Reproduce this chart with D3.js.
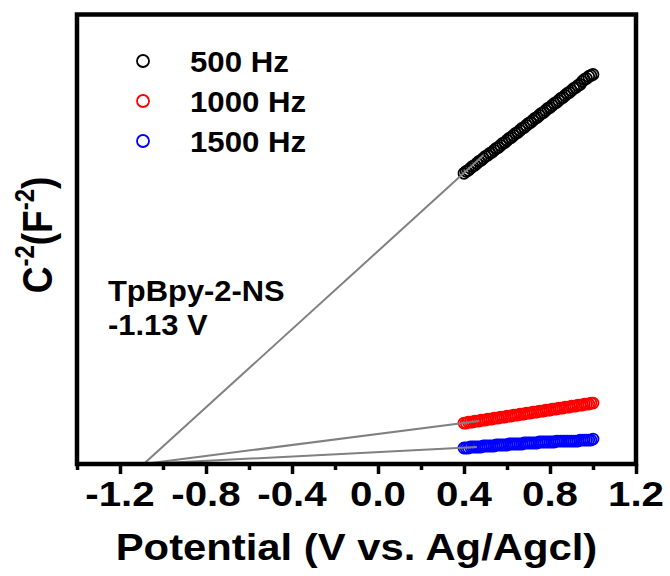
<!DOCTYPE html>
<html><head><meta charset="utf-8">
<script src="https://cdn.jsdelivr.net/npm/d3@7"></script>
<style>html,body{margin:0;padding:0;background:#fff;}svg{display:block;}</style>
</head><body>
<script>
const potential = [0.40,0.41,0.42,0.43,0.44,0.45,0.46,0.47,0.48,0.49,0.50,0.51,0.52,0.53,0.54,0.55,0.56,0.57,0.58,0.59,0.60,0.61,0.62,0.63,0.64,0.65,0.66,0.67,0.68,0.69,0.70,0.71,0.72,0.73,0.74,0.75,0.76,0.77,0.78,0.79,0.80,0.81,0.82,0.83,0.84,0.85,0.86,0.87,0.88,0.89,0.90,0.91,0.92,0.93,0.94,0.95,0.96,0.97,0.98,0.99,1.00];
const hz500 = [2.91,2.93,2.94,2.96,2.98,2.99,3.01,3.03,3.04,3.06,3.08,3.09,3.11,3.12,3.14,3.16,3.17,3.19,3.21,3.22,3.24,3.26,3.27,3.29,3.31,3.32,3.34,3.36,3.37,3.39,3.41,3.42,3.44,3.46,3.47,3.49,3.51,3.52,3.54,3.56,3.57,3.59,3.61,3.62,3.64,3.66,3.67,3.69,3.71,3.72,3.74,3.76,3.77,3.79,3.80,3.83,3.85,3.86,3.88,3.89,3.90];
const hz1000 = [0.41,0.41,0.42,0.42,0.42,0.43,0.43,0.43,0.44,0.44,0.44,0.45,0.45,0.45,0.46,0.46,0.46,0.47,0.47,0.47,0.48,0.48,0.48,0.49,0.49,0.49,0.50,0.50,0.50,0.51,0.51,0.51,0.52,0.52,0.52,0.53,0.53,0.53,0.54,0.54,0.54,0.55,0.55,0.55,0.56,0.56,0.56,0.57,0.57,0.57,0.58,0.58,0.58,0.59,0.59,0.59,0.60,0.60,0.60,0.61,0.61];
const hz1500 = [0.16,0.16,0.16,0.17,0.17,0.17,0.17,0.17,0.17,0.18,0.18,0.18,0.18,0.18,0.18,0.19,0.19,0.19,0.19,0.19,0.19,0.20,0.20,0.20,0.20,0.20,0.20,0.20,0.21,0.21,0.21,0.21,0.21,0.21,0.21,0.22,0.22,0.22,0.22,0.22,0.22,0.22,0.22,0.23,0.23,0.23,0.23,0.23,0.23,0.23,0.23,0.23,0.23,0.23,0.24,0.24,0.24,0.24,0.24,0.24,0.25];
const seriesNames = ["500 Hz","1000 Hz","1500 Hz"];
const seriesColors = ["#000000","#ff0000","#0000ff"];
// Mott-Schottky fit lines: intercept on the x axis and end point of each line
const interceptV = -1.09;
const fitEndX = [0.49, 0.47, 0.46];
const fitEndY = [3.09, 0.43, 0.17];
const majorTicks = [-1.2,-0.8,-0.4,0.0,0.4,0.8,1.2];
const tickLabels = ["-1.2","-0.8","-0.4","0.0","0.4","0.8","1.2"];
const minorTicks = [-1.4,-1.0,-0.6,-0.2,0.2,0.6,1.0];
const sampleName = "TpBpy-2-NS";
const fbValue = "-1.13 V";

const W = 670, H = 576;
const L = 77, R = 636, T = 14.5, B = 464;
const FONT = "Arial, 'Liberation Sans', sans-serif";
const svg = d3.select("body").append("svg").attr("width", W).attr("height", H);
const x = d3.scaleLinear().domain([-1.4, 1.2]).range([L, R]);
const y = d3.scaleLinear().domain([0, 4.5]).range([B, T]);

function txt(g, s, px, py, size, sx, anchor) {
  return g.append("text").attr("transform", `translate(${px},${py}) scale(${sx},1)`)
    .attr("font-family", FONT).attr("font-weight", "bold").attr("font-size", size)
    .attr("text-anchor", anchor || "start").attr("fill", "#000").text(s);
}

// data circles
const series = [hz500, hz1000, hz1500];
series.forEach((vals, i) => {
  svg.append("g").selectAll("circle").data(vals).join("circle")
    .attr("cx", (d, j) => x(potential[j])).attr("cy", d => y(d)).attr("r", 5.5)
    .attr("fill", "none").attr("stroke", seriesColors[i]).attr("stroke-width", 1.8);
});
// fit lines
fitEndX.forEach((ex, i) => {
  svg.append("line").attr("x1", x(interceptV)).attr("y1", y(0))
    .attr("x2", x(ex)).attr("y2", y(fitEndY[i]))
    .attr("stroke", "#808080").attr("stroke-width", 2);
});

// axes
const xAxis = d3.axisBottom(x).tickValues(majorTicks).tickSize(10).tickFormat("");
const gx = svg.append("g").attr("transform", `translate(0,${B})`).call(xAxis);
gx.select(".domain").remove();
gx.selectAll(".tick line").attr("stroke", "#000").attr("stroke-width", 3.5);
const gm = svg.append("g").attr("transform", `translate(0,${B})`)
  .call(d3.axisBottom(x).tickValues(minorTicks).tickSize(6).tickFormat(""));
gm.select(".domain").remove();
gm.selectAll(".tick line").attr("stroke", "#000").attr("stroke-width", 3.5);
majorTicks.forEach((t, i) => txt(svg, tickLabels[i], x(t), 506, 35, 1.15, "middle"));

// frame
svg.append("rect").attr("x", L).attr("y", T).attr("width", R - L).attr("height", B - T)
  .attr("fill", "none").attr("stroke", "#000").attr("stroke-width", 4.5);

// axis titles
txt(svg, "Potential (V vs. Ag/Agcl)", (L + R) / 2, 560, 37, 1.13, "middle");
const yt = svg.append("text").attr("transform", `translate(52,235) scale(1.13,1) rotate(-90)`)
  .attr("font-family", FONT).attr("font-weight", "bold").attr("font-size", 37)
  .attr("text-anchor", "middle").attr("fill", "#000");
yt.append("tspan").text("C");
yt.append("tspan").attr("font-size", 24).attr("dy", -16).text("-2");
yt.append("tspan").attr("dy", 16).text("(F");
yt.append("tspan").attr("font-size", 24).attr("dy", -16).text("-2");
yt.append("tspan").attr("dy", 16).text(")");

// legend
seriesNames.forEach((n, i) => {
  const ly = 61 + i * 40;
  svg.append("circle").attr("cx", 143).attr("cy", ly).attr("r", 6)
    .attr("fill", "none").attr("stroke", seriesColors[i]).attr("stroke-width", 1.8);
  txt(svg, n, 190, ly + 11, 30, 1.04);
});

// annotation
txt(svg, sampleName, 108, 301, 30, 1.03);
txt(svg, fbValue, 108, 335, 30, 1.03);
</script>
</body></html>
